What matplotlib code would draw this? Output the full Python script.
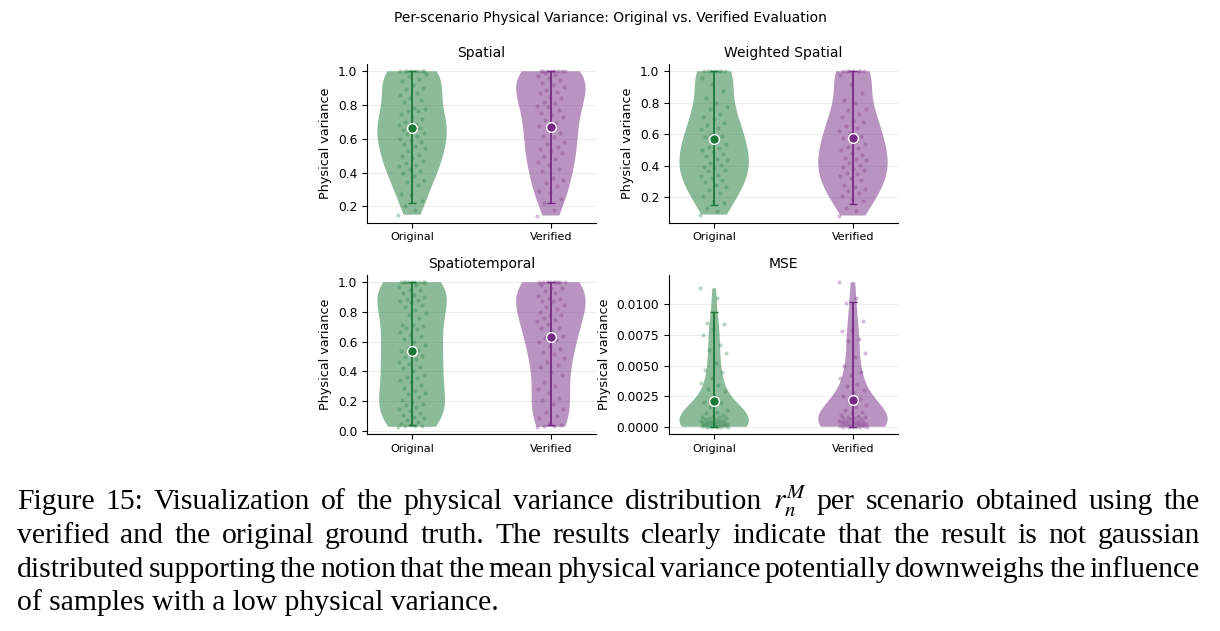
import matplotlib
matplotlib.use('Agg')
import matplotlib.pyplot as plt
from matplotlib.ticker import MultipleLocator, FormatStrFormatter

# groups shown in every panel
groups = ['Original', 'Verified']
panel_titles = ['Spatial', 'Weighted Spatial', 'Spatiotemporal', 'MSE']

# per-scenario physical variance, estimated from the dots and violin outlines in the picture
spatial_original = [0.15, 0.18, 0.204, 0.233, 0.267, 0.273, 0.328, 0.341, 0.357, 0.38, 0.396,
                    0.41, 0.42, 0.436, 0.446, 0.455, 0.47, 0.485, 0.495, 0.505, 0.528, 0.544,
                    0.56, 0.57, 0.581, 0.593, 0.60, 0.615, 0.626, 0.636, 0.646, 0.65, 0.662,
                    0.67, 0.68, 0.69, 0.70, 0.715, 0.727, 0.745, 0.762, 0.766, 0.774, 0.78,
                    0.82, 0.83, 0.84, 0.858, 0.87, 0.892, 0.898, 0.92, 0.94, 0.953, 0.97,
                    0.985, 1.0, 1.0, 1.0, 1.0, 1.0, 1.0, 1.0, 1.0]
spatial_verified = [0.145, 0.18, 0.22, 0.243, 0.279, 0.29, 0.318, 0.34, 0.357, 0.367, 0.41,
                    0.422, 0.446, 0.465, 0.48, 0.495, 0.514, 0.53, 0.54, 0.554, 0.57, 0.583,
                    0.613, 0.617, 0.636, 0.666, 0.675, 0.695, 0.71, 0.727, 0.74, 0.754, 0.77,
                    0.786, 0.794, 0.813, 0.82, 0.84, 0.85, 0.87, 0.878, 0.89, 0.904, 0.92,
                    0.93, 0.95, 0.96, 0.97, 0.976, 0.99,
                    1.0, 1.0, 1.0, 1.0, 1.0, 1.0, 1.0, 1.0]
weighted_original = [0.09, 0.11, 0.133, 0.164, 0.168, 0.21, 0.227, 0.248, 0.265, 0.28, 0.30,
                     0.312, 0.32, 0.333, 0.343, 0.364, 0.37, 0.385, 0.395, 0.406, 0.42, 0.438,
                     0.445, 0.463, 0.476, 0.485, 0.497, 0.51, 0.52, 0.54, 0.564, 0.58, 0.59,
                     0.602, 0.632, 0.64, 0.66, 0.67, 0.695, 0.71, 0.73, 0.758, 0.775, 0.796,
                     0.832, 0.876, 0.92, 0.96,
                     1.0, 1.0, 1.0, 1.0, 1.0, 1.0, 1.0]
weighted_verified = [0.084, 0.11, 0.133, 0.175, 0.19, 0.206, 0.225, 0.238, 0.253, 0.265, 0.28,
                     0.31, 0.32, 0.337, 0.345, 0.354, 0.37, 0.38, 0.39, 0.406, 0.417, 0.434,
                     0.445, 0.45, 0.47, 0.484, 0.497, 0.51, 0.52, 0.535, 0.56, 0.575, 0.59,
                     0.606, 0.623, 0.64, 0.653, 0.68, 0.686, 0.71, 0.728, 0.754, 0.758, 0.796,
                     0.82, 0.86, 0.92, 0.975,
                     1.0, 1.0, 1.0, 1.0, 1.0, 1.0, 1.0]
spatiotemporal_original = [0.027, 0.03, 0.032, 0.035, 0.038, 0.045, 0.06, 0.072, 0.083, 0.095,
                           0.106, 0.117, 0.135, 0.144, 0.16, 0.173, 0.18, 0.196, 0.21, 0.23,
                           0.245, 0.252, 0.27, 0.29, 0.309, 0.33, 0.345, 0.354, 0.365, 0.376,
                           0.40, 0.421, 0.43, 0.45, 0.466, 0.48, 0.495, 0.505, 0.52, 0.535,
                           0.545, 0.56, 0.58, 0.60, 0.62, 0.64, 0.645, 0.662, 0.685, 0.69,
                           0.707, 0.714, 0.714, 0.76, 0.78, 0.79, 0.81, 0.833, 0.845, 0.865,
                           0.872, 0.88, 0.89, 0.90, 0.915, 0.93, 0.945, 0.95, 0.965, 0.98,
                           1.0, 1.0, 1.0, 1.0, 1.0, 1.0, 1.0, 1.0, 1.0]
spatiotemporal_verified = [0.027, 0.032, 0.035, 0.04, 0.05, 0.088, 0.099, 0.128, 0.144, 0.18,
                           0.207, 0.22, 0.252, 0.28, 0.30, 0.331, 0.376, 0.394, 0.428, 0.44,
                           0.466, 0.49, 0.518, 0.53, 0.55, 0.572, 0.595, 0.608, 0.624, 0.64,
                           0.67, 0.69, 0.695, 0.72, 0.736, 0.745, 0.76, 0.78, 0.78, 0.80, 0.82,
                           0.835, 0.845, 0.872, 0.872, 0.887, 0.894, 0.91, 0.93, 0.94, 0.962,
                           0.962, 0.98,
                           1.0, 1.0, 1.0, 1.0, 1.0, 1.0, 1.0, 1.0, 1.0]
mse_original = [0.0113, 0.0105, 0.0085, 0.0084, 0.0080, 0.0075, 0.0067, 0.0063, 0.0060, 0.0052,
                0.0046, 0.0045, 0.0040, 0.0036, 0.0034, 0.0031, 0.0029, 0.0025, 0.0020, 0.0019,
                0.0016, 0.0014, 0.0012, 0.0011, 0.0010, 0.0009, 0.0008, 0.0008, 0.0007, 0.0007,
                0.0006, 0.0006, 0.00055, 0.0005, 0.0005, 0.00045, 0.0004, 0.0004, 0.00035,
                0.0003, 0.0003, 0.00027, 0.00025, 0.0002, 0.0002, 0.00015, 0.00014, 0.0001,
                0.0001, 0.00008, 0.00005, 0.00005, 0.00003, 0.00002, 0.0, 0.0, 0.0, 0.0]
mse_verified = [0.0118, 0.0105, 0.0101, 0.0086, 0.0079, 0.0078, 0.0072, 0.0070, 0.0060, 0.0057,
                0.0050, 0.0045, 0.0042, 0.0040, 0.0035, 0.0033, 0.0030, 0.0028, 0.0025, 0.0023,
                0.0020, 0.0018, 0.0016, 0.0014, 0.0012, 0.0011, 0.0010, 0.0009, 0.0008, 0.0008,
                0.0007, 0.0007, 0.0006, 0.0006, 0.0005, 0.0005, 0.00045, 0.0004, 0.0004,
                0.00035, 0.0003, 0.0003, 0.00025, 0.0002, 0.0002, 0.00015, 0.00014, 0.0001,
                0.00008, 0.00005, 0.00005, 0.00002, 0.0, 0.0, 0.0, 0.0]

# mean marker and whisker ends per violin (original, verified)
means = [[0.666, 0.668], [0.568, 0.575], [0.534, 0.628], [0.0021, 0.00215]]
whisker_low = [[0.219, 0.219], [0.152, 0.158], [0.038, 0.038], [0.0, 0.0]]
whisker_high = [[1.0, 1.0], [1.0, 1.0], [1.0, 1.0], [0.00937, 0.0102]]

caption_lines = [
    'Figure 15: Visualization of the physical variance distribution $r_n^M$ per scenario obtained using the',
    'verified and the original ground truth.  The results clearly indicate that the result is not gaussian',
    'distributed supporting the notion that the mean physical variance potentially downweighs the influence',
    'of samples with a low physical variance.',
]

colors = ['#1b7837', '#762a83']


def draw_caption(fig):
    W, H = fig.get_size_inches() * fig.dpi
    renderer = fig.canvas.get_renderer()
    left, right = 17, 1200
    baselines = [509, 543, 577, 610]
    base = 17.8

    # pick one font size so the justified lines keep roughly normal word gaps
    sizes = []
    for line in caption_lines[:-1]:
        words = line.replace('  ', ' ').split(' ')
        tmp = [fig.text(0, 0, w, fontsize=base, family='Liberation Serif') for w in words]
        total = sum(t.get_window_extent(renderer).width for t in tmp)
        for t in tmp:
            t.remove()
        space = 0.3 * base * fig.dpi / 72
        sizes.append(base * (right - left) / (total + space * (len(words) - 1)))
    fsize = sum(sizes) / len(sizes)

    for k, line in enumerate(caption_lines):
        y = 1 - baselines[k] / H
        if k == len(caption_lines) - 1:
            fig.text(left / W, y, line, fontsize=fsize, family='Liberation Serif', va='baseline')
            continue
        words = line.replace('  ', ' ').split(' ')
        texts = [fig.text(0, y, w, fontsize=fsize, family='Liberation Serif', va='baseline')
                 for w in words]
        widths = [t.get_window_extent(renderer).width for t in texts]
        gap = (right - left - sum(widths)) / (len(words) - 1)
        x = left
        for t, w in zip(texts, widths):
            t.set_x(x / W)
            x += w + gap


def main():
    plt.rcParams['mathtext.fontset'] = 'stix'
    data = [[spatial_original, spatial_verified],
            [weighted_original, weighted_verified],
            [spatiotemporal_original, spatiotemporal_verified],
            [mse_original, mse_verified]]

    fig = plt.figure(figsize=(12.2, 6.31), dpi=100)
    boxes = [[0.3008, 0.647, 0.1877, 0.2515], [0.5484, 0.647, 0.1877, 0.2515],
             [0.3008, 0.3122, 0.1877, 0.252], [0.5484, 0.3122, 0.1877, 0.252]]

    for p in range(4):
        ax = fig.add_axes(boxes[p])
        parts = ax.violinplot(data[p], positions=[0, 1], widths=0.5,
                              showextrema=False, showmeans=False, showmedians=False)
        for body, c in zip(parts['bodies'], colors):
            body.set_facecolor(c)
            body.set_edgecolor('none')
            body.set_alpha(0.5)
        for g in range(2):
            vals = data[p][g]
            # fixed spread for the strip points (no randomness)
            xs = [g + ((i * 0.6180339887) % 1.0 - 0.5) * 0.2 for i in range(len(vals))]
            ax.scatter(xs, vals, s=9, color=colors[g], alpha=0.3, linewidths=0, zorder=3)
            m = means[p][g]
            ax.errorbar([g], [m], yerr=[[m - whisker_low[p][g]], [whisker_high[p][g] - m]],
                        fmt='none', ecolor=colors[g], elinewidth=1.3, capsize=3, capthick=1.0,
                        zorder=4)
            ax.plot([g], [m], 'o', color=colors[g], markersize=7, markeredgecolor='white',
                    markeredgewidth=1.0, zorder=5)
        ax.set_xticks([0, 1])
        ax.set_xticklabels(groups, fontsize=8)
        ax.tick_params(axis='y', labelsize=8.8)
        ax.set_ylabel('Physical variance', fontsize=9.2)
        ax.set_title(panel_titles[p], fontsize=10, pad=5)
        ax.grid(axis='y', color='#dddddd', linewidth=0.6, alpha=0.6)
        ax.set_axisbelow(True)
        ax.spines['top'].set_visible(False)
        ax.spines['right'].set_visible(False)
        if p == 3:
            ax.yaxis.set_major_locator(MultipleLocator(0.0025))
            ax.yaxis.set_major_formatter(FormatStrFormatter('%.4f'))
        else:
            ax.yaxis.set_major_locator(MultipleLocator(0.2))
            ax.yaxis.set_major_formatter(FormatStrFormatter('%.1f'))

    fig.text(0.5, 1 - 18 / 631, 'Per-scenario Physical Variance: Original vs. Verified Evaluation',
             ha='center', va='center', fontsize=10)
    draw_caption(fig)
    fig.savefig('out.png', dpi=100)


if __name__ == '__main__':
    main()
